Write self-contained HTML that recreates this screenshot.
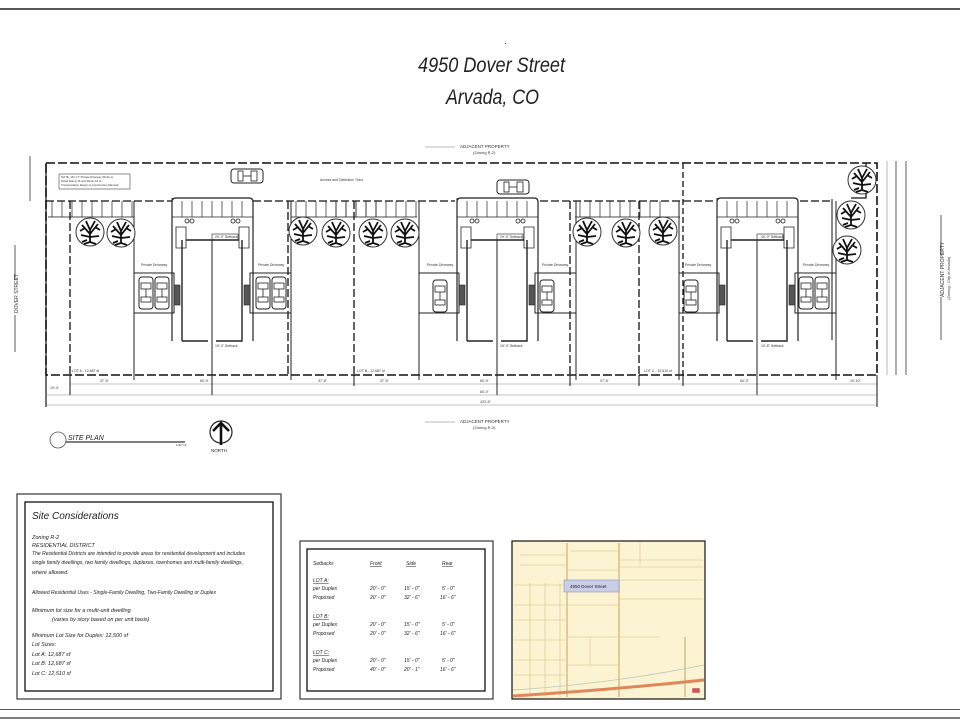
<!DOCTYPE html>
<html><head><meta charset="utf-8">
<style>
html,body{margin:0;padding:0;background:#fff;}
svg{display:block;}
text{font-family:"Liberation Sans",sans-serif;}
.t{font-style:italic;fill:#222;}
</style></head>
<body>
<svg width="960" height="720" viewBox="0 0 960 720" xmlns="http://www.w3.org/2000/svg">
<defs>
<g id="tree">
<circle r="14" fill="#fff" stroke="#333" stroke-width="1"/>
<path d="M0 10 L0 -2 M0 2 L-8 -7 M0 2 L8 -8 M0 -2 L-4 -11 M0 -2 L5 -11 M0 5 L-9 3 M0 5 L9 4 M-5 -4 L-10 -1 M5 -5 L10 -2 M0 10 L-6 12 M0 10 L6 12 M-3 8 L-8 10" stroke="#111" stroke-width="1.8" fill="none"/>
</g>
<g id="car">
<rect x="-7" y="-16" width="14" height="32" rx="3" fill="#fff" stroke="#222" stroke-width="1"/>
<rect x="-5" y="-10" width="10" height="6" fill="none" stroke="#222" stroke-width="0.8"/>
<rect x="-5" y="4" width="10" height="5" fill="none" stroke="#222" stroke-width="0.8"/>
<line x1="0" y1="-4" x2="0" y2="4" stroke="#222" stroke-width="0.8"/>
</g>
<g id="stripes" stroke="#222" stroke-width="0.7">
<line x1="0" y1="0" x2="0" y2="16"/><line x1="10" y1="0" x2="10" y2="16"/><line x1="20" y1="0" x2="20" y2="16"/><line x1="30" y1="0" x2="30" y2="16"/><line x1="40" y1="0" x2="40" y2="16"/><line x1="50" y1="0" x2="50" y2="16"/><line x1="60" y1="0" x2="60" y2="16"/><line x1="70" y1="0" x2="70" y2="16"/><line x1="80" y1="0" x2="80" y2="16"/>
</g>
<g id="duplex" stroke="#222" fill="none">
<path d="M-40 341 V202 Q-40 198 -36 198 H37 Q41 198 41 202 V341" stroke-width="1.2"/>
<line x1="-40" y1="217" x2="41" y2="217" stroke-width="0.8"/>
<g stroke-width="0.7">
<line x1="-30" y1="201" x2="-30" y2="217"/><line x1="-20" y1="201" x2="-20" y2="217"/><line x1="-10" y1="201" x2="-10" y2="217"/><line x1="0" y1="201" x2="0" y2="217"/><line x1="10" y1="201" x2="10" y2="217"/><line x1="20" y1="201" x2="20" y2="217"/><line x1="30" y1="201" x2="30" y2="217"/>
</g>
<circle cx="-25" cy="221" r="2" stroke-width="0.8"/><circle cx="-20" cy="221" r="2" stroke-width="0.8"/>
<circle cx="21" cy="221" r="2" stroke-width="0.8"/><circle cx="26" cy="221" r="2" stroke-width="0.8"/>
<path d="M-36 227 H-26 V248 H-36 Z" stroke-width="0.8"/>
<path d="M27 227 H37 V248 H27 Z" stroke-width="0.8"/>
<path d="M-26 240 H27" stroke-width="1.6"/>
<rect x="0" y="234" width="26" height="6" stroke-width="0.6"/>
<path d="M-30 240 V341 M-30 341 H-4 M4 341 H30 V240" stroke-width="1.4"/>
<line x1="0" y1="240" x2="0" y2="395" stroke-width="1"/>
<rect x="-78" y="273" width="40" height="40" stroke-width="1"/>
<rect x="38" y="273" width="41" height="40" stroke-width="1"/>
<rect x="-38" y="285" width="6" height="20" fill="#555" stroke-width="0.6"/>
<rect x="32" y="285" width="6" height="20" fill="#555" stroke-width="0.6"/>
<line x1="-78" y1="313" x2="-78" y2="380" stroke-width="1"/>
<line x1="79" y1="313" x2="79" y2="380" stroke-width="1"/>
<line x1="-40" y1="198" x2="-40" y2="273" stroke-width="1"/>
<line x1="-78" y1="201" x2="-78" y2="273" stroke-width="1"/>
<line x1="79" y1="201" x2="79" y2="273" stroke-width="1"/>
</g>
</defs>

<line x1="0" y1="9" x2="960" y2="9" stroke="#222" stroke-width="1.4"/>
<line x1="0" y1="709.5" x2="960" y2="709.5" stroke="#555" stroke-width="1"/>
<line x1="0" y1="718" x2="960" y2="718" stroke="#555" stroke-width="1.5"/>

<text x="504" y="44" font-size="10" fill="#222">.</text>
<text class="t" x="418" y="72" font-size="21" textLength="147" lengthAdjust="spacingAndGlyphs">4950 Dover Street</text>
<text class="t" x="446" y="104" font-size="21" textLength="93" lengthAdjust="spacingAndGlyphs">Arvada, CO</text>

<line x1="425" y1="147" x2="455" y2="147" stroke="#777" stroke-width="0.6"/>
<text x="460" y="148" font-size="4.5" fill="#333">ADJACENT PROPERTY</text>
<text x="473" y="154" font-size="4" fill="#333">(Zoning R-2)</text>
<line x1="425" y1="422" x2="455" y2="422" stroke="#777" stroke-width="0.6"/>
<text x="460" y="423" font-size="4.5" fill="#333">ADJACENT PROPERTY</text>
<text x="473" y="429" font-size="4" fill="#333">(Zoning R-2)</text>
<line x1="941" y1="215" x2="941" y2="340" stroke="#333" stroke-width="0.8"/>
<rect x="937" y="255" width="16" height="42" fill="#fff"/>
<text transform="translate(944,297) rotate(-90)" font-size="5" fill="#333">ADJACENT PROPERTY</text>
<text transform="translate(950,300) rotate(-90)" font-size="4" fill="#333">(Zoning - City of Arvada)</text>
<line x1="15" y1="245" x2="15" y2="352" stroke="#333" stroke-width="0.8"/>
<rect x="11" y="280" width="10" height="35" fill="#fff"/>
<text transform="translate(18,313) rotate(-90)" font-size="5" fill="#333">DOVER STREET</text>

<g stroke="#111" fill="none">
<path d="M46 163 H877 V375 H46 Z" stroke-width="1.6" stroke-dasharray="9 3"/>
<line x1="46" y1="163" x2="46" y2="407" stroke-width="1.2"/>
<path d="M46 201 H172 M253 201 H455 M540 201 H716 M800 201 H832" stroke-width="1.3" stroke-dasharray="8 3"/>
<line x1="70" y1="201" x2="70" y2="375" stroke-width="1.3" stroke-dasharray="8 3"/>
<line x1="288" y1="201" x2="288" y2="375" stroke-width="1.3" stroke-dasharray="8 3"/>
<line x1="354" y1="201" x2="354" y2="375" stroke-width="1.3" stroke-dasharray="8 3"/>
<line x1="639" y1="201" x2="639" y2="375" stroke-width="1.3" stroke-dasharray="8 3"/>
<line x1="683" y1="163" x2="683" y2="375" stroke-width="1.3" stroke-dasharray="6 3"/>
<line x1="570" y1="201" x2="570" y2="375" stroke-width="1.3" stroke-dasharray="8 3"/>
<path d="M832 340 V199" stroke-width="1"/>
<path d="M851 198 H866 V163" stroke-width="1.3"/>
<line x1="48" y1="217" x2="134" y2="217" stroke-width="0.8"/>
<line x1="291" y1="217" x2="417" y2="217" stroke-width="0.8"/>
<line x1="575" y1="217" x2="680" y2="217" stroke-width="0.8"/>
<line x1="70" y1="384" x2="877" y2="384" stroke="#888" stroke-width="0.6"/>
<line x1="46" y1="395" x2="877" y2="395" stroke="#888" stroke-width="0.6"/>
<line x1="46" y1="405" x2="877" y2="405" stroke="#888" stroke-width="0.6"/>
<line x1="70" y1="375" x2="70" y2="395" stroke-width="1"/>
<line x1="877" y1="375" x2="877" y2="407" stroke-width="1"/>
<line x1="354" y1="375" x2="354" y2="386" stroke-width="1"/>
<line x1="639" y1="375" x2="639" y2="386" stroke-width="1"/>
<line x1="570" y1="375" x2="570" y2="386" stroke-width="1"/>
<line x1="683" y1="375" x2="683" y2="386" stroke-width="1"/>
<line x1="887" y1="161" x2="887" y2="375" stroke="#888" stroke-width="0.6"/>
<line x1="896" y1="161" x2="896" y2="375" stroke="#333" stroke-width="0.8"/>
<line x1="906" y1="161" x2="906" y2="375" stroke="#333" stroke-width="0.8"/>
<line x1="30" y1="156" x2="30" y2="201" stroke="#333" stroke-width="0.8"/>
</g>
<use href="#stripes" x="52" y="201"/>
<use href="#stripes" x="296" y="201"/><use href="#stripes" x="336" y="201"/>
<use href="#stripes" x="580" y="201"/>
<g font-size="3.5" fill="#333">
<text x="50" y="389">19'-4"</text><text x="100" y="382">37'-6"</text><text x="200" y="382">60'-0"</text>
<text x="318" y="382">37'-6"</text><text x="380" y="382">37'-6"</text><text x="480" y="382">60'-0"</text>
<text x="600" y="382">37'-6"</text><text x="740" y="382">60'-0"</text><text x="850" y="382">10'-10"</text>
<text x="480" y="393">60'-0"</text><text x="480" y="403">423'-6"</text>
<text x="72" y="372">LOT A - 12,687 sf</text><text x="357" y="372">LOT B - 12,687 sf</text><text x="644" y="372">LOT C - 12,510 sf</text>
<text x="320" y="181">Access and Detention Tract</text>
<text x="141" y="266">Private Driveway</text><text x="258" y="266">Private Driveway</text>
<text x="427" y="266">Private Driveway</text><text x="542" y="266">Private Driveway</text>
<text x="685" y="266">Private Driveway</text><text x="803" y="266">Private Driveway</text>
<text x="215" y="238">29'-0" Setback</text><text x="500" y="238">29'-0" Setback</text><text x="761" y="238">40'-0" Setback</text>
<text x="215" y="347">19'-4" Setback</text><text x="500" y="347">19'-4" Setback</text><text x="761" y="347">10'-8" Setback</text>
</g>
<rect x="59" y="174" width="71" height="15" fill="#fff" stroke="#444" stroke-width="0.6"/>
<text x="61" y="178" font-size="2.8" fill="#333">NOTE: 16'x 17' Private Driveway (Refer to</text>
<text x="61" y="182" font-size="2.8" fill="#333">Detail Ramp-16 and Ramp-16 of</text>
<text x="61" y="186" font-size="2.8" fill="#333">Transportation Design &amp; Construction Manual)</text>
<g transform="translate(247,176) rotate(90)"><use href="#car"/></g>
<g transform="translate(513,187) rotate(90)"><use href="#car"/></g>

<use href="#duplex" transform="translate(212,0)"/>
<use href="#duplex" transform="translate(497,0)"/>
<use href="#duplex" transform="translate(757,0)"/>
<use href="#car" x="146" y="293"/><use href="#car" x="162" y="293"/>
<use href="#car" x="263" y="293"/><use href="#car" x="279" y="293"/>
<use href="#car" x="440" y="296"/>
<use href="#car" x="547" y="296"/>
<use href="#car" x="691" y="296"/>
<use href="#car" x="806" y="293"/><use href="#car" x="822" y="293"/>

<use href="#tree" x="90" y="232"/><use href="#tree" x="121" y="233"/>
<use href="#tree" x="303" y="231"/><use href="#tree" x="336" y="233"/>
<use href="#tree" x="373" y="233"/><use href="#tree" x="405" y="233"/>
<use href="#tree" x="587" y="232"/><use href="#tree" x="626" y="233"/>
<use href="#tree" x="663" y="231"/>
<use href="#tree" x="862" y="180"/><use href="#tree" x="851" y="215"/><use href="#tree" x="847" y="250"/>

<circle cx="58" cy="440" r="8" fill="#fff" stroke="#555" stroke-width="0.8"/>
<text x="68" y="440" font-size="7" font-style="italic" fill="#222">SITE PLAN</text>
<line x1="66" y1="442" x2="185" y2="442" stroke="#333" stroke-width="1.2"/>
<text x="176" y="446" font-size="3" fill="#333">1/32"=1'</text>
<circle cx="221" cy="432" r="11" fill="#fff" stroke="#222" stroke-width="1.2"/>
<path d="M221 445 V423 M213 431 L221 423 L229 431" stroke="#111" stroke-width="2.6" fill="none"/>
<text x="211" y="452" font-size="4.5" fill="#222">NORTH</text>

<rect x="17" y="494" width="264" height="205" fill="#fff" stroke="#444" stroke-width="1.3"/>
<rect x="25" y="502" width="248" height="189" fill="none" stroke="#111" stroke-width="1.3"/>
<g class="t" font-size="5.5">
<text x="32" y="519" font-size="10">Site Considerations</text>
<text x="32" y="539">Zoning R-2</text>
<text x="32" y="547">RESIDENTIAL DISTRICT</text>
<text x="32" y="555" textLength="213" lengthAdjust="spacingAndGlyphs">The Residential Districts are intended to provide areas for residential development and includes</text>
<text x="32" y="564" textLength="211" lengthAdjust="spacingAndGlyphs">single family dwellings, two family dwellings, duplexes, townhomes and multi-family dwellings,</text>
<text x="32" y="574">where allowed.</text>
<text x="32" y="594" textLength="184" lengthAdjust="spacingAndGlyphs">Allowed Residential Uses  -  Single-Family Dwelling, Two-Family Dwelling or Duplex</text>
<text x="32" y="612">Minimum lot size for a multi-unit dwelling</text>
<text x="52" y="621">(varies by story based on per unit basis)</text>
<text x="32" y="637">Minimum Lot Size for Duplex: 12,500 sf</text>
<text x="32" y="646">Lot Sizes:</text>
<text x="32" y="656">Lot A: 12,687 sf</text>
<text x="32" y="665">Lot B: 12,687 sf</text>
<text x="32" y="675">Lot C: 12,510 sf</text>
</g>

<rect x="300" y="541" width="193" height="158" fill="#fff" stroke="#444" stroke-width="1.3"/>
<rect x="307" y="549" width="178" height="142" fill="none" stroke="#111" stroke-width="1.3"/>
<g class="t" font-size="5">
<text x="313" y="565">Setbacks</text>
<text x="370" y="565" text-decoration="underline">Front</text>
<text x="406" y="565" text-decoration="underline">Side</text>
<text x="442" y="565" text-decoration="underline">Rear</text>
<text x="313" y="582" text-decoration="underline">LOT A:</text>
<text x="313" y="590">per Duplex</text><text x="370" y="590">20' - 0"</text><text x="404" y="590">15' - 0"</text><text x="442" y="590">5' - 0"</text>
<text x="313" y="599">Proposed</text><text x="370" y="599">20' - 0"</text><text x="404" y="599">32' - 6"</text><text x="440" y="599">16' - 6"</text>
<text x="313" y="618" text-decoration="underline">LOT B:</text>
<text x="313" y="626">per Duplex</text><text x="370" y="626">20' - 0"</text><text x="404" y="626">15' - 0"</text><text x="442" y="626">5' - 0"</text>
<text x="313" y="635">Proposed</text><text x="370" y="635">20' - 0"</text><text x="404" y="635">32' - 6"</text><text x="440" y="635">16' - 6"</text>
<text x="313" y="654" text-decoration="underline">LOT C:</text>
<text x="313" y="662">per Duplex</text><text x="370" y="662">20' - 0"</text><text x="404" y="662">15' - 0"</text><text x="442" y="662">5' - 0"</text>
<text x="313" y="671">Proposed</text><text x="370" y="671">40' - 0"</text><text x="404" y="671">20' - 1"</text><text x="440" y="671">16' - 6"</text>
</g>

<rect x="512" y="541" width="193" height="158" fill="#fbf3d2" stroke="#111" stroke-width="1.2"/>
<g stroke="#e3cf9a" stroke-width="0.8" fill="none">
<line x1="567" y1="543" x2="567" y2="697" stroke="#d9c08a" stroke-width="1.6"/>
<line x1="619" y1="543" x2="619" y2="697" stroke="#d9c08a" stroke-width="1.6"/>
<line x1="520" y1="555" x2="567" y2="555"/><line x1="520" y1="565" x2="567" y2="565"/>
<line x1="570" y1="551" x2="618" y2="551"/><line x1="620" y1="560" x2="703" y2="560"/>
<line x1="620" y1="567" x2="703" y2="567"/><line x1="567" y1="570" x2="619" y2="570"/>
<line x1="620" y1="580" x2="703" y2="580"/><line x1="620" y1="599" x2="703" y2="599"/>
<line x1="514" y1="585" x2="567" y2="585"/><line x1="514" y1="605" x2="567" y2="605"/>
<line x1="514" y1="620" x2="567" y2="620"/><line x1="514" y1="640" x2="567" y2="640"/>
<line x1="514" y1="660" x2="567" y2="660"/><line x1="514" y1="675" x2="567" y2="675"/>
<line x1="567" y1="605" x2="619" y2="605"/><line x1="567" y1="637" x2="660" y2="637"/>
<line x1="567" y1="665" x2="619" y2="665"/><line x1="530" y1="583" x2="530" y2="697"/>
<line x1="545" y1="583" x2="545" y2="697"/><line x1="560" y1="583" x2="560" y2="697"/>
<line x1="590" y1="637" x2="590" y2="665"/><line x1="640" y1="543" x2="640" y2="565"/>
<line x1="685" y1="637" x2="685" y2="697" stroke="#d9c08a" stroke-width="1.6"/>
</g>
<rect x="564" y="580" width="55" height="12" fill="#c9cde6" stroke="#8e93b8" stroke-width="0.6"/>
<text x="570" y="588" font-size="4.5" fill="#222">4950 Dover Street</text>
<path d="M513 696 Q610 690 704 680" stroke="#e0875a" stroke-width="3" fill="none"/>
<path d="M513 690 Q610 684 704 665" stroke="#b0c8c0" stroke-width="0.8" fill="none"/>
<rect x="692" y="688" width="8" height="5" fill="#c55" stroke="#fff" stroke-width="0.4"/>
</svg>
</body></html>
